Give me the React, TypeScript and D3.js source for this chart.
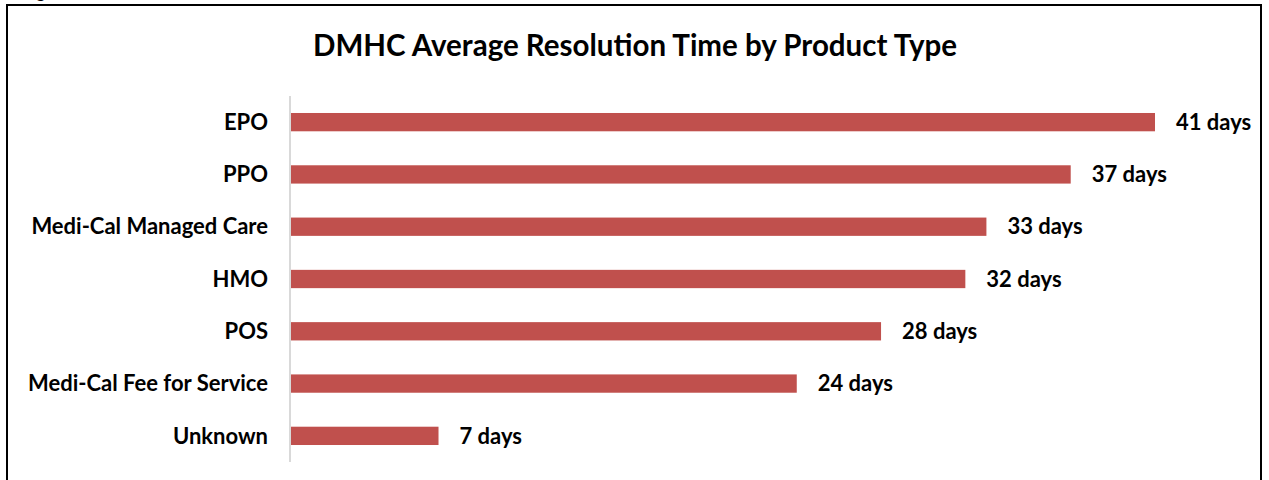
import * as d3 from "d3";
import { FC, useEffect, useRef } from "react";

const categories = [
  "EPO",
  "PPO",
  "Medi-Cal Managed Care",
  "HMO",
  "POS",
  "Medi-Cal Fee for Service",
  "Unknown",
];
const days = [41, 37, 33, 32, 28, 24, 7];

const WIDTH = 1269;
const HEIGHT = 480;
const FONT = "Lato, 'Open Sans', sans-serif";

const ResolutionChart: FC = () => {
  const svgRef = useRef<SVGSVGElement | null>(null);

  useEffect(() => {
    if (!svgRef.current) return;
    const svg = d3.select(svgRef.current);
    svg.selectAll("*").remove();

    // frame around the figure, bottom edge runs off the page
    svg
      .append("rect")
      .attr("x", 7)
      .attr("y", 5)
      .attr("width", 1254)
      .attr("height", 500)
      .attr("fill", "none")
      .attr("stroke", "#000")
      .attr("stroke-width", 2);

    // tail of the caption above the frame
    svg
      .append("text")
      .attr("x", 35)
      .attr("y", -3)
      .attr("font-family", "Liberation Sans, sans-serif")
      .attr("font-size", 20)
      .text("g");

    svg
      .append("text")
      .attr("x", 635)
      .attr("y", 56)
      .attr("text-anchor", "middle")
      .attr("font-family", FONT)
      .attr("font-weight", "bold")
      .attr("font-size", 29.5)
      .attr("fill", "#000")
      .text("DMHC Average Resolution Time by Product Type");

    const xScale = d3.scaleLinear([0, 41], [291, 1155]);
    const yScale = d3
      .scaleBand<string>()
      .domain(categories)
      .range([96, 462])
      .paddingInner(0.65)
      .paddingOuter(0.325);

    svg
      .append("line")
      .attr("x1", 290)
      .attr("x2", 290)
      .attr("y1", 96)
      .attr("y2", 462)
      .attr("stroke", "#d9d9d9")
      .attr("stroke-width", 2);

    const rows = svg
      .append("g")
      .selectAll("g")
      .data(categories)
      .enter()
      .append("g");

    rows
      .append("rect")
      .attr("x", xScale(0))
      .attr("y", (d) => yScale(d) || 0)
      .attr("width", (_, i) => xScale(days[i]) - xScale(0))
      .attr("height", yScale.bandwidth())
      .attr("fill", "#C0504D");

    rows
      .append("text")
      .attr("x", 268)
      .attr("y", (d) => (yScale(d) || 0) + yScale.bandwidth() / 2)
      .attr("dy", "0.35em")
      .attr("text-anchor", "end")
      .attr("font-family", FONT)
      .attr("font-weight", "bold")
      .attr("font-size", 22)
      .attr("fill", "#000")
      .text((d) => d);

    rows
      .append("text")
      .attr("x", (_, i) => xScale(days[i]) + 21)
      .attr("y", (d) => (yScale(d) || 0) + yScale.bandwidth() / 2)
      .attr("dy", "0.35em")
      .attr("font-family", FONT)
      .attr("font-weight", "bold")
      .attr("font-size", 22)
      .attr("fill", "#000")
      .text((_, i) => `${days[i]} days`);
  }, []);

  return (
    <svg
      ref={svgRef}
      width={WIDTH}
      height={HEIGHT}
      style={{ position: "absolute", left: 0, top: 0, background: "#fff" }}
    />
  );
};

export default function App() {
  return <ResolutionChart />;
}
